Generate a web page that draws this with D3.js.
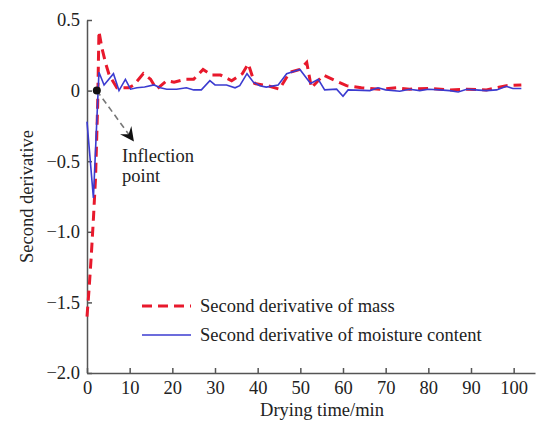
<!DOCTYPE html>
<html>
<head>
<meta charset="utf-8">
<script src="https://cdn.jsdelivr.net/npm/d3@7/dist/d3.min.js"></script>
<style>
  body { margin: 0; background: #fff; }
  text { font-family: "Liberation Serif", "Times New Roman", serif; }
</style>
</head>
<body>
<div id="chart"></div>
<script>
const width = 536;
const height = 427;

// ------------------
// DATA
// ------------------

const massTime = [0, 0.5, 1, 1.5, 2, 2.5, 2.8, 3.5, 4.4, 5.2, 7, 9.8, 11, 13.2, 14.9, 16.3, 18.7, 20.4, 23, 25,
    27.2, 29.2, 31.3, 33.9, 36.4, 37.8, 39.3, 42.3, 45.1, 47.5, 49.9, 51.5, 52.6, 55.4, 58.9, 60.8, 64.3,
    68.6, 72.5, 75.6, 80, 85, 89, 93.6, 98.3, 101.8];
const massValues = [-1.6, -1.4, -1.17, -0.91, -0.62, -0.1, 0.42, 0.3, 0.19, 0.11, 0.02, 0.02, 0.04, 0.12, 0.08, 0.01, 0.07, 0.06, 0.08, 0.08,
    0.15, 0.11, 0.11, 0.07, 0.12, 0.19, 0.05, 0.035, 0.01, 0.13, 0.15, 0.2, 0.02, 0.11, 0.06, 0.035, 0.02,
    0.01, 0.02, 0.01, 0.015, 0.005, 0.01, 0.005, 0.035, 0.04];

const moistTime = [0, 1.5, 2.8, 4, 6.2, 7.5, 9, 10.2, 11.7, 13.5, 15.7, 17.2, 18.7, 21, 23.3, 25, 26.8, 28.8, 30,
    32.7, 34.7, 35.8, 37.5, 39, 40.5, 42, 44.8, 46.8, 49.9, 52.4, 54.2, 55.7, 58.5, 60, 61.2, 66.3, 68.2,
    70, 73.3, 75.6, 78, 80, 82.7, 85, 87, 89, 91, 93.6, 96, 98.3, 99.8, 101.8];
const moistValues = [-0.22, -0.76, 0.13, 0.04, 0.12, 0.0, 0.08, 0.01, 0.02, 0.025, 0.04, 0.02, 0.01, 0.01, 0.02, 0.005, 0.005, 0.07, 0.04,
    0.04, 0.02, 0.035, 0.12, 0.06, 0.035, 0.025, 0.04, 0.12, 0.15, 0.05, 0.08, 0.005, 0.01, -0.04, 0.005, 0.0, 0.02,
    0.005, -0.005, 0.01, 0.0, 0.01, 0.005, 0.0, -0.01, 0.01, 0.005, 0.0, 0.005, 0.03, 0.015, 0.015];

const xTicks = [0, 10, 20, 30, 40, 50, 60, 70, 80, 90, 100];
const yTicks = [0.5, 0, -0.5, -1.0, -1.5, -2.0];
const yTickLabels = ["0.5", "0", "\u22120.5", "\u22121.0", "\u22121.5", "\u22122.0"];
const legendLabels = ["Second derivative of mass", "Second derivative of moisture content"];

const inflection = { t: 2.3, v: 0 };
const arrowEnd = { t: 11, v: -0.36 };

// ------------------
// SVG + SCALES
// ------------------

const svg = d3.select("#chart")
    .append("svg")
    .attr("width", width)
    .attr("height", height);

const x = d3.scaleLinear().domain([0, 105]).range([87, 535]);
const y = d3.scaleLinear().domain([-2, 0.5]).range([373, 20]);

const axisColor = "#555";
const fontSize = "18.5px";

// ------------------
// AXES
// ------------------

const gx = svg.append("g")
    .attr("transform", `translate(0,${y(-2)})`)
    .call(d3.axisBottom(x).tickValues(xTicks).tickSize(-5).tickSizeOuter(0).tickPadding(8).tickFormat(d3.format("d")));

const gy = svg.append("g")
    .attr("transform", `translate(${x(0)},0)`)
    .call(d3.axisLeft(y).tickValues(yTicks).tickSize(-5).tickSizeOuter(0).tickPadding(7)
        .tickFormat((d, i) => yTickLabels[i]));

[gx, gy].forEach(g => {
    g.select(".domain").attr("stroke", axisColor).attr("stroke-width", 1.5);
    g.selectAll(".tick line").attr("stroke", axisColor).attr("stroke-width", 1.5);
    g.selectAll("text")
        .attr("fill", "#222")
        .style("font-family", "'Liberation Serif', serif")
        .style("font-size", fontSize);
});

svg.append("text")
    .attr("x", 322)
    .attr("y", 416)
    .attr("text-anchor", "middle")
    .attr("fill", "#222")
    .style("font-size", fontSize)
    .text("Drying time/min");

svg.append("text")
    .attr("transform", `translate(33,${y(-0.75)}) rotate(-90)`)
    .attr("text-anchor", "middle")
    .attr("fill", "#222")
    .style("font-size", fontSize)
    .text("Second derivative");

// ------------------
// LINES
// ------------------

const line = d3.line()
    .x(d => x(d[0]))
    .y(d => y(d[1]));

const massData = massTime.map((t, i) => [t, massValues[i]]);
const moistData = moistTime.map((t, i) => [t, moistValues[i]]);

svg.append("path")
    .datum(massData)
    .attr("fill", "none")
    .attr("stroke", "#e8192c")
    .attr("stroke-width", 3)
    .attr("stroke-dasharray", "10,6")
    .attr("d", line);

svg.append("path")
    .datum(moistData)
    .attr("fill", "none")
    .attr("stroke", "#3b3bd0")
    .attr("stroke-width", 1.6)
    .attr("d", line);

// ------------------
// ANNOTATION
// ------------------

const ax0 = x(inflection.t), ay0 = y(inflection.v);
const ax1 = x(arrowEnd.t), ay1 = y(arrowEnd.v);
const ang = Math.atan2(ay1 - ay0, ax1 - ax0);

svg.append("line")
    .attr("x1", ax0)
    .attr("y1", ay0)
    .attr("x2", ax1 - 8 * Math.cos(ang))
    .attr("y2", ay1 - 8 * Math.sin(ang))
    .attr("stroke", "#777")
    .attr("stroke-width", 1.6)
    .attr("stroke-dasharray", "6,4");

svg.append("path")
    .attr("d", "M0,0 L-14,-7 L-9,0 L-14,7 Z")
    .attr("transform", `translate(${ax1},${ay1}) rotate(${ang * 180 / Math.PI})`)
    .attr("fill", "#111");

svg.append("circle")
    .attr("cx", ax0)
    .attr("cy", ay0)
    .attr("r", 4)
    .attr("fill", "#111");

const note = svg.append("text")
    .attr("fill", "#222")
    .style("font-size", fontSize);
note.append("tspan").attr("x", 122).attr("y", 162).text("Inflection");
note.append("tspan").attr("x", 122).attr("y", 182).text("point");

// ------------------
// LEGEND
// ------------------

const legend = svg.append("g");
const legendStyles = [
    { stroke: "#e8192c", width: 3, dash: "10,6" },
    { stroke: "#3b3bd0", width: 1.6, dash: null }
];

legendLabels.forEach((label, i) => {
    const ly = 306 + i * 29;
    legend.append("line")
        .attr("x1", 142)
        .attr("x2", 191)
        .attr("y1", ly)
        .attr("y2", ly)
        .attr("stroke", legendStyles[i].stroke)
        .attr("stroke-width", legendStyles[i].width)
        .attr("stroke-dasharray", legendStyles[i].dash);
    legend.append("text")
        .attr("x", 200)
        .attr("y", ly)
        .attr("dy", "0.32em")
        .attr("fill", "#222")
        .style("font-size", fontSize)
        .text(label);
});
</script>
</body>
</html>
